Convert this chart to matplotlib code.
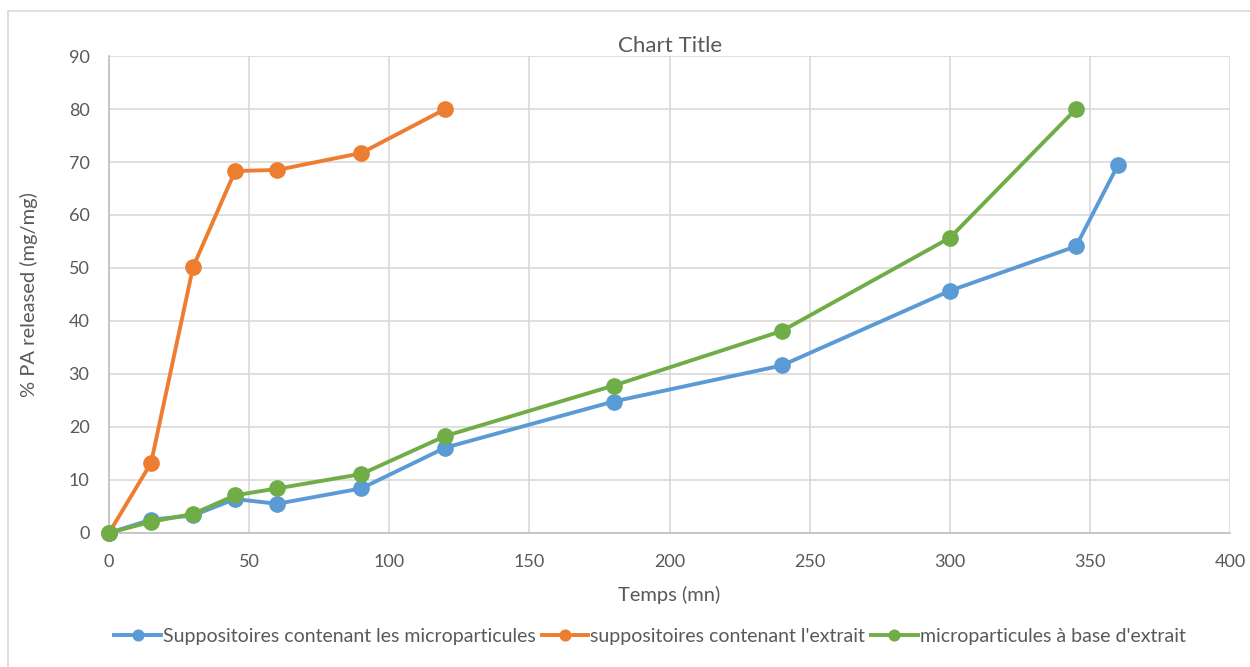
import matplotlib.pyplot as plt
from matplotlib.patches import Rectangle

plt.rcParams['font.family'] = ['Lato', 'DejaVu Sans']

# release data (time in minutes, % released)
t_micro = [0, 15, 30, 45, 60, 90, 120, 180, 240, 300, 345, 360]
pa_micro = [0, 2.5, 3.3, 6.4, 5.5, 8.4, 16.1, 24.8, 31.6, 45.7, 54.1, 69.5]

t_extrait = [0, 15, 30, 45, 60, 90, 120]
pa_extrait = [0, 13.2, 50.2, 68.3, 68.5, 71.7, 80.0]

t_base = [0, 15, 30, 45, 60, 90, 120, 180, 240, 300, 345]
pa_base = [0, 2.1, 3.6, 7.1, 8.4, 11.1, 18.3, 27.8, 38.1, 55.7, 80.0]

labels = ["Suppositoires contenant les microparticules",
          "suppositoires contenant l'extrait",
          "microparticules à base d'extrait"]
colors = ['#5B9BD5', '#ED7D31', '#70AD47']
grey = '#595959'

fig = plt.figure(figsize=(12.5, 6.67), dpi=100)
ax = fig.add_axes([0.0872, 0.201, 0.897, 0.715])

for t, y, lab, c in zip([t_micro, t_extrait, t_base],
                        [pa_micro, pa_extrait, pa_base], labels, colors):
    ax.plot(t, y, color=c, lw=2.8, marker='o', ms=11, label=lab, zorder=3,
            clip_on=False)

ax.set_xlim(0, 400)
ax.set_ylim(0, 90)
ax.set_xticks(range(0, 401, 50))
ax.set_yticks(range(0, 91, 10))
ax.grid(True, color='#D9D9D9', lw=1.2)
ax.set_axisbelow(True)
for s in ['top', 'right']:
    ax.spines[s].set_visible(False)
for s in ['left', 'bottom']:
    ax.spines[s].set_color('#BFBFBF')
    ax.spines[s].set_linewidth(1.2)
ax.tick_params(axis='x', length=0, labelsize=13, labelcolor=grey, pad=15)
ax.tick_params(axis='y', length=0, labelsize=13, labelcolor=grey, pad=14)
ax.set_xlabel('Temps (mn)', fontsize=14.5, color=grey, labelpad=12)
ax.set_ylabel('% PA released (mg/mg)', fontsize=14.5, color=grey, labelpad=22)
ax.set_title('Chart Title', fontsize=16, color=grey, pad=3)

fig.legend(loc='center', bbox_to_anchor=(0.52, 0.046), ncol=3, frameon=False,
           fontsize=14, handlelength=2.4, handletextpad=0.1, columnspacing=0.3,
           markerscale=0.7, labelcolor=grey)

# chart area border
fig.patches.append(Rectangle((0.0064, -0.01), 1.0, 1.0 - 0.0165 + 0.01,
                             transform=fig.transFigure, fill=False,
                             edgecolor='#D9D9D9', lw=1.2))

fig.savefig('out.png', dpi=100)
